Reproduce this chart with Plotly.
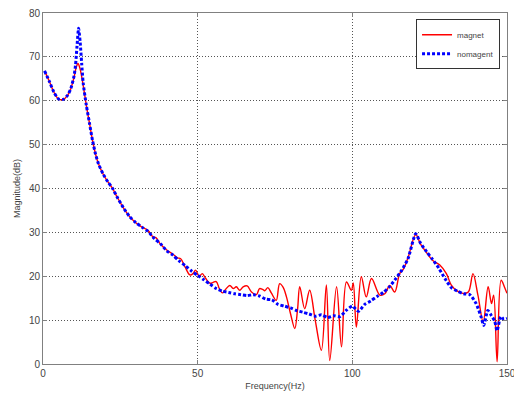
import plotly.graph_objects as go

# nomagnet (blue dotted)
f_nomag = [0.5, 2, 3.5, 5, 6.5, 8, 9, 10, 10.5, 11, 11.5, 12, 12.5, 13, 14, 15, 16, 17, 18, 19.5,
           21, 22.5, 24, 26, 28, 30, 32, 34, 36, 38, 40, 42, 44, 46, 48, 50, 52, 54, 56, 58,
           60, 62, 64, 66, 68, 70, 72, 74, 76, 78, 80, 82, 84, 86, 88, 90, 92, 94, 96, 98,
           100, 102, 104, 106, 108, 110, 112, 114, 116, 118, 120.5, 122, 124, 126, 128, 130,
           132, 134, 136, 138, 140, 141.5, 142.5, 143.8, 145, 146, 146.8, 148, 149, 150]
v_nomag = [66.8, 64.5, 62.0, 60.4, 60.3, 61.3, 62.8, 65.5, 68.0, 72.5, 76.5, 73.5, 68.5, 64.0, 59.0, 55.0, 51.0, 47.8, 45.5, 43.2,
           41.5, 40.0, 38.0, 35.6, 33.6, 32.2, 31.2, 30.2, 28.6, 27.4, 25.8, 24.8, 23.5, 22.4, 21.2, 20.2, 19.2, 18.2, 17.2, 16.6,
           16.3, 16.0, 15.8, 15.6, 15.8, 15.5, 14.8, 14.6, 13.6, 13.2, 12.8, 12.2, 11.8, 11.4, 10.9, 11.2, 10.6, 11.0, 10.8, 12.2,
           13.2, 12.0, 13.6, 14.4, 15.4, 16.3, 17.6, 19.4, 21.4, 24.0, 29.7, 27.6, 25.6, 23.8, 21.8, 19.4,
           17.4, 16.6, 16.0, 15.8, 13.8, 11.0, 8.8, 12.2, 11.0, 9.8, 7.6, 10.8, 10.2, 10.4]

# magnet (red solid)
f_mag = [0.5, 2, 3.5, 5, 6.5, 8, 9, 10, 10.7, 11.3, 11.9, 12.5, 13, 14, 15, 16, 17, 18, 19.5, 21,
         22.5, 24, 26, 28, 30, 32, 34, 35.5, 36.5, 38, 40, 42, 43.5, 44.5, 46, 47.5, 48.5, 49.3, 50.5, 51.5,
         52.5, 54, 55, 56, 57, 58, 59, 60.4, 61.5, 62.5, 63.6, 64.7, 66, 67.4, 69, 70, 71, 71.7, 72.7, 73.8,
         75.4, 76.5, 77.6, 78.7, 80, 81.4, 82.3, 83.0, 84.6, 86.2, 88.0, 90.0, 91.6, 92.7, 94.9, 96.5, 98.1, 99.7, 100.3, 101.3,
         102.9, 104.5, 106.2, 108.9, 110.5, 112.1, 113.7, 115.3, 116.5, 118, 120.5, 122, 124, 126, 128.2, 130.4, 132, 134, 135.8, 137.5,
         139, 140.6, 142.3, 143.9, 145, 145.7, 146.8, 148.1, 149.2, 150]
v_mag = [66.8, 64.5, 62.0, 60.4, 60.3, 61.3, 62.8, 65.2, 67.5, 68.5, 67.5, 65.5, 63.5, 59.0, 55.0, 51.0, 47.8, 45.5, 43.2, 41.5,
         40.0, 38.0, 35.6, 33.6, 32.2, 31.2, 30.4, 29.0, 28.8, 27.3, 26.0, 25.0, 24.2, 24.0, 22.0, 20.3, 20.6, 21.4, 20.0, 20.6,
         19.6, 18.4, 18.6, 18.8, 17.2, 16.2, 17.0, 17.9, 17.2, 17.6, 16.8, 17.6, 17.8, 16.4, 15.8, 17.2, 17.0, 16.7, 17.4, 16.2,
         14.5, 18.3, 17.5, 15.3, 11.5, 8.1, 12.5, 17.6, 12.6, 16.8, 10.0, 3.1, 18.0, 0.8, 17.6, 3.9, 18.7, 16.8, 18.5, 8.4,
         19.9, 15.3, 19.5, 15.7, 16.0, 17.9, 16.4, 20.6, 21.6, 24.2, 29.5, 27.4, 25.4, 23.6, 22.6, 20.6, 18.0, 16.6, 16.1, 16.4,
         20.6, 15.7, 9.6, 17.6, 13.8, 15.7, 0.5, 19.1, 17.5, 16.1]

x_ticks = [0, 50, 100, 150]
y_ticks = [0, 10, 20, 30, 40, 50, 60, 70, 80]

fig = go.Figure()
fig.add_trace(go.Scatter(x=f_mag, y=v_mag, mode="lines", name="magnet",
                         line=dict(color="#ff0000", width=1.4, shape="spline", smoothing=1.0)))
fig.add_trace(go.Scatter(x=f_nomag, y=v_nomag, mode="lines", name="nomagent",
                         line=dict(color="#0000ff", width=3, dash="3px,2px", shape="spline", smoothing=0.6)))

axis_common = dict(showline=True, linecolor="#808080", linewidth=1, mirror="ticks",
                   ticks="inside", ticklen=4, tickcolor="#808080",
                   showgrid=True, gridcolor="#555555", gridwidth=1, griddash="1px,2px",
                   zeroline=False, ticklabeloverflow="allow", automargin=False,
                   tickfont=dict(family="Liberation Sans", size=10, color="#444444"))

fig.update_xaxes(range=[0, 150], tickvals=x_ticks, ticktext=[str(t) for t in x_ticks],
                 title=dict(text="Frequency(Hz)", font=dict(family="Liberation Sans", size=9, color="#444444"), standoff=4),
                 **axis_common)
fig.update_yaxes(range=[0, 80], tickvals=y_ticks, ticktext=[str(t) for t in y_ticks],
                 title=dict(text="Magnitude(dB)", font=dict(family="Liberation Sans", size=9, color="#444444"), standoff=6),
                 **axis_common)

fig.update_layout(
    width=514, height=394,
    margin=dict(l=43, r=7, t=13, b=30),
    paper_bgcolor="white", plot_bgcolor="white",
    showlegend=True,
    legend=dict(x=0.985, y=0.982, xanchor="right", yanchor="top",
                bgcolor="white", bordercolor="#333333", borderwidth=1,
                font=dict(family="Liberation Sans", size=8, color="#444444"),
                itemwidth=30, tracegroupgap=0),
)

fig.write_html("out.html")
